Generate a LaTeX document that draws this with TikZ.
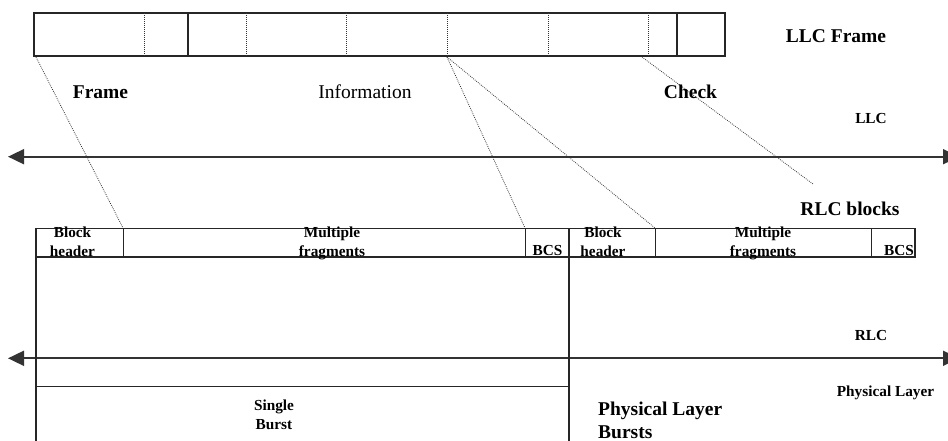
\documentclass[tikz,border=0pt]{standalone}
\usepackage{fontspec}
\setmainfont{Liberation Serif}
\usetikzlibrary{arrows.meta}
\begin{document}
\begin{tikzpicture}[x=1pt,y=-1pt,
  solidline/.style={line width=1.5pt,draw=black!85},
  dotline/.style={line width=0.8pt,dash pattern=on 0.8pt off 1.2pt,draw=black!80},
  layerarrow/.style={line width=1.8pt,draw=black!80,{Triangle[length=16pt,width=15pt]}-{Triangle[length=16pt,width=15pt]}},
  biglabel/.style={font=\fontsize{19.5}{23}\selectfont\bfseries,inner sep=0pt,anchor=base},
  biglabelrm/.style={font=\fontsize{19.5}{23}\selectfont,inner sep=0pt,anchor=base},
  smalllabel/.style={font=\fontsize{15.3}{18.7}\selectfont\bfseries,inner sep=0pt,anchor=base,align=center},
]
\useasboundingbox (0,0) rectangle (948,441);
% LLC frame
\draw[solidline] (34,13) rectangle (725,56);
\draw[solidline] (188,13) -- (188,56);
\draw[solidline] (677,13) -- (677,56);
\foreach \x in {144,246,346,447,548,648}
  \draw[dotline] (\x,13) -- (\x,56);
% coordinates for mapping lines
\coordinate (f0) at (36,57);
\coordinate (f1) at (447,57);
\coordinate (f2) at (642,57);
\coordinate (r0) at (123,228);
\coordinate (r1) at (525,228);
\coordinate (r2) at (655,228);
\coordinate (r3) at (813,184);
\draw[dotline] (f0) -- (r0);
\draw[dotline] (f1) -- (r1);
\draw[dotline] (f1) -- (r2);
\draw[dotline] (f2) -- (r3);
% layer arrows
\coordinate (la) at (8,156.7);
\coordinate (lb) at (959,156.7);
\coordinate (ra) at (8,358.3);
\coordinate (rb) at (959,358.3);
\draw[layerarrow] (la) -- (lb);
\draw[layerarrow] (ra) -- (rb);
% RLC blocks row
\draw[solidline] (36,228.3) rectangle (915,257);
\foreach \x in {123.3,525.7,569,655.7,871.3}
  \draw[solidline] (\x,228.3) -- (\x,257);
% lower boxes
\draw[solidline] (36,228.3) -- (36,441);
\draw[solidline] (569,228.3) -- (569,441);
\draw[solidline] (36,386.7) -- (569,386.7);
% labels
\node[biglabel] (llcframe) at (836,43) {LLC Frame};
\node[biglabel] (frame) at (100.5,99) {Frame};
\node[biglabelrm] (info) at (365,99) {Information};
\node[biglabel] (check) at (690.5,99) {Check};
\node[smalllabel] (llc) at (871,124) {LLC};
\node[biglabel] (rlcblocks) at (850,215) {RLC blocks};
\node[smalllabel] (bh1) at (72.5,256.5) {Block\\header};
\node[smalllabel] (mf1) at (332,256.5) {Multiple\\fragments};
\node[smalllabel] (bcs1) at (547.5,255) {BCS};
\node[smalllabel] (bh2) at (603,256.5) {Block\\header};
\node[smalllabel] (mf2) at (763,256.5) {Multiple\\fragments};
\node[smalllabel] (bcs2) at (899,255) {BCS};
\node[smalllabel] (rlc) at (871,340) {RLC};
\node[smalllabel] (phys) at (885.5,396.5) {Physical Layer};
\node[smalllabel] (single) at (274,429) {Single\\Burst};
\node[biglabel,anchor=base west,align=left] (pbursts) at (598,438) {Physical Layer\\Bursts};
\end{tikzpicture}
\end{document}
